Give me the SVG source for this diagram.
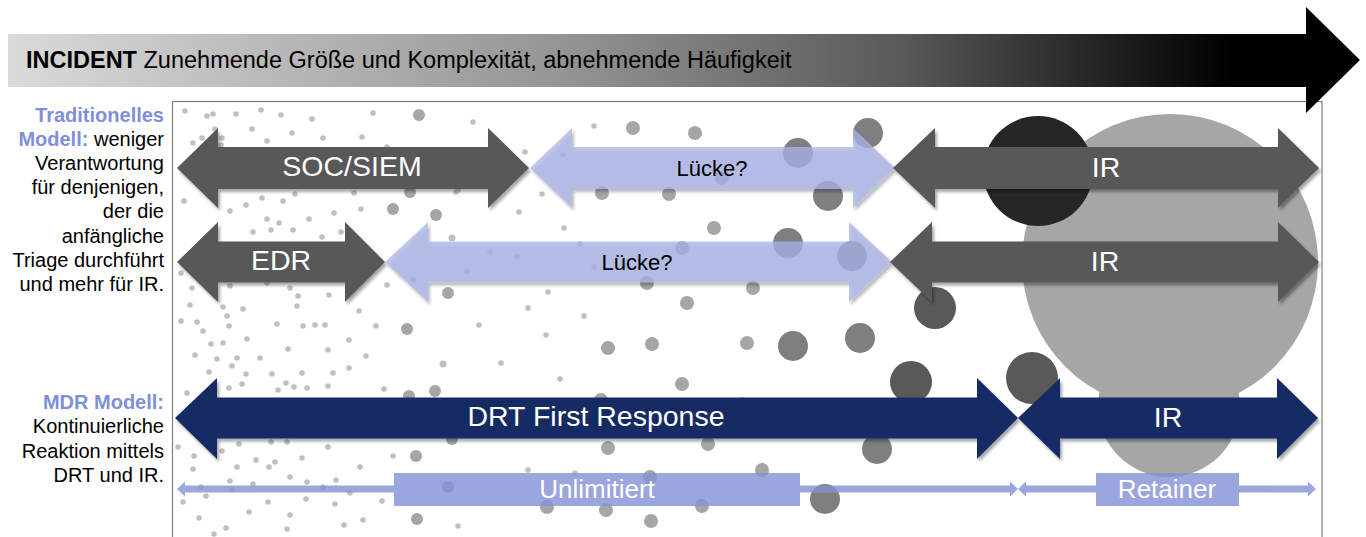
<svg xmlns="http://www.w3.org/2000/svg" width="1366" height="537" viewBox="0 0 1366 537">
<defs>
<linearGradient id="bandGrad" gradientUnits="userSpaceOnUse" x1="8" y1="0" x2="1360" y2="0">
<stop offset="0" stop-color="#dadada"/>
<stop offset="0.408" stop-color="#959595"/>
<stop offset="0.66" stop-color="#595959"/>
<stop offset="0.905" stop-color="#000000"/>
<stop offset="1" stop-color="#000000"/>
</linearGradient>
<filter id="shadow" x="-5%" y="-20%" width="110%" height="150%">
<feDropShadow dx="2" dy="3" stdDeviation="1.8" flood-color="#000" flood-opacity="0.35"/>
</filter>
<style>
text{font-family:"Liberation Sans",Arial,Helvetica,sans-serif}
.lbl{font-size:20px;fill:#000;text-anchor:end}
.blue{fill:#7f8fd9;font-weight:bold}
.s{fill:#c0c0c0}
.m{fill:#a6a6a6}
.l{fill:#7f7f7f}
.xl{fill:#595959}
.dark{fill:#595959;filter:url(#shadow)}
.gap{fill:#aab4e8;fill-opacity:0.75;filter:url(#shadow)}
.navy{fill:#162c63;filter:url(#shadow)}
.wt{fill:#fff;text-anchor:middle;font-size:28.5px}
.bt{fill:#000;text-anchor:middle;font-size:22px}
.thin{fill:#8391d6}
.ct{fill:#fff;text-anchor:middle;font-size:26px}
</style>
</defs>
<rect width="1366" height="537" fill="#fff"/>

<g id="dots">
<g class="s">
<circle cx="185" cy="111" r="2.8"/><circle cx="207" cy="116" r="2.8"/><circle cx="213" cy="114" r="2.8"/><circle cx="236" cy="114" r="2.8"/><circle cx="261" cy="110" r="2.8"/><circle cx="281" cy="115" r="2.8"/><circle cx="312" cy="119" r="2.8"/><circle cx="373" cy="113" r="2.8"/><circle cx="252" cy="129" r="2.8"/><circle cx="292" cy="133" r="2.8"/><circle cx="323" cy="138" r="2.8"/><circle cx="362" cy="137" r="2.8"/><circle cx="387" cy="147" r="2.8"/><circle cx="222" cy="138" r="2.8"/><circle cx="202" cy="138" r="2.8"/><circle cx="193" cy="143" r="2.8"/><circle cx="221" cy="145" r="2.8"/><circle cx="215" cy="129" r="2.8"/><circle cx="267" cy="141" r="2.8"/>
<circle cx="184" cy="201" r="2.8"/><circle cx="230" cy="211" r="2.8"/><circle cx="246" cy="205" r="2.8"/><circle cx="262" cy="198" r="2.8"/><circle cx="283" cy="201" r="2.8"/><circle cx="295" cy="194" r="2.8"/><circle cx="354" cy="193" r="2.8"/><circle cx="456" cy="192" r="2.8"/><circle cx="267" cy="219" r="2.8"/><circle cx="279" cy="223" r="2.8"/><circle cx="293" cy="230" r="2.8"/><circle cx="309" cy="219" r="2.8"/><circle cx="334" cy="213" r="2.8"/><circle cx="361" cy="209" r="2.8"/><circle cx="341" cy="232" r="2.8"/><circle cx="322" cy="237" r="2.8"/><circle cx="253" cy="232" r="2.8"/><circle cx="271" cy="230" r="2.8"/><circle cx="181" cy="273" r="2.8"/><circle cx="192" cy="288" r="2.8"/><circle cx="230" cy="286" r="2.8"/><circle cx="267" cy="283" r="2.8"/><circle cx="290" cy="288" r="2.8"/><circle cx="387" cy="285" r="2.8"/><circle cx="413" cy="280" r="2.8"/><circle cx="448" cy="292" r="2.8"/>
<circle cx="473" cy="122" r="2.8"/><circle cx="594" cy="126" r="2.8"/><circle cx="563" cy="155" r="2.8"/><circle cx="525" cy="152" r="2.8"/><circle cx="542" cy="194" r="2.8"/><circle cx="519" cy="212" r="2.8"/><circle cx="564" cy="228" r="2.8"/><circle cx="490" cy="252" r="2.8"/><circle cx="517" cy="257" r="2.8"/><circle cx="467" cy="271" r="2.8"/><circle cx="594" cy="267" r="2.8"/><circle cx="580" cy="244" r="2.8"/><circle cx="548" cy="292" r="2.8"/><circle cx="458" cy="190" r="2.8"/>
<circle cx="190" cy="305" r="2.8"/><circle cx="223" cy="307" r="2.8"/><circle cx="243" cy="309" r="2.8"/><circle cx="227" cy="316" r="2.8"/><circle cx="181" cy="321" r="2.8"/><circle cx="197" cy="322" r="2.8"/><circle cx="229" cy="326" r="2.8"/><circle cx="203" cy="331" r="2.8"/><circle cx="277" cy="324" r="2.8"/><circle cx="303" cy="326" r="2.8"/><circle cx="315" cy="325" r="2.8"/><circle cx="325" cy="325" r="2.8"/><circle cx="298" cy="296" r="2.8"/><circle cx="329" cy="295" r="2.8"/><circle cx="297" cy="306" r="2.8"/><circle cx="359" cy="311" r="2.8"/><circle cx="376" cy="326" r="2.8"/>
<circle cx="211" cy="344" r="2.8"/><circle cx="223" cy="343" r="2.8"/><circle cx="247" cy="339" r="2.8"/><circle cx="288" cy="349" r="2.8"/><circle cx="328" cy="350" r="2.8"/><circle cx="349" cy="340" r="2.8"/><circle cx="195" cy="355" r="2.8"/><circle cx="217" cy="359" r="2.8"/><circle cx="237" cy="358" r="2.8"/><circle cx="260" cy="358" r="2.8"/><circle cx="232" cy="366" r="2.8"/><circle cx="366" cy="356" r="2.8"/>
<circle cx="209" cy="372" r="2.8"/><circle cx="246" cy="374" r="2.8"/><circle cx="272" cy="374" r="2.8"/><circle cx="302" cy="373" r="2.8"/><circle cx="333" cy="373" r="2.8"/><circle cx="349" cy="368" r="2.8"/><circle cx="242" cy="384" r="2.8"/><circle cx="286" cy="383" r="2.8"/><circle cx="294" cy="387" r="2.8"/><circle cx="307" cy="388" r="2.8"/><circle cx="328" cy="386" r="2.8"/><circle cx="278" cy="390" r="2.8"/><circle cx="229" cy="388" r="2.8"/><circle cx="187" cy="393" r="2.8"/><circle cx="384" cy="389" r="2.8"/>
<circle cx="178" cy="447" r="2.8"/><circle cx="239" cy="444" r="2.8"/><circle cx="271" cy="442" r="2.8"/><circle cx="287" cy="442" r="2.8"/><circle cx="328" cy="447" r="2.8"/><circle cx="194" cy="456" r="2.8"/><circle cx="222" cy="451" r="2.8"/><circle cx="256" cy="460" r="2.8"/><circle cx="275" cy="462" r="2.8"/><circle cx="269" cy="467" r="2.8"/><circle cx="237" cy="467" r="2.8"/><circle cx="302" cy="458" r="2.8"/><circle cx="360" cy="467" r="2.8"/><circle cx="393" cy="456" r="2.8"/><circle cx="193" cy="469" r="2.8"/><circle cx="290" cy="477" r="2.8"/><circle cx="307" cy="482" r="2.8"/><circle cx="336" cy="480" r="2.8"/><circle cx="230" cy="481" r="2.8"/><circle cx="253" cy="484" r="2.8"/><circle cx="201" cy="487" r="2.8"/><circle cx="232" cy="490" r="2.8"/><circle cx="323" cy="487" r="2.8"/><circle cx="350" cy="493" r="2.8"/>
<circle cx="183" cy="502" r="2.8"/><circle cx="206" cy="496" r="2.8"/><circle cx="268" cy="502" r="2.8"/><circle cx="306" cy="499" r="2.8"/><circle cx="335" cy="504" r="2.8"/><circle cx="382" cy="501" r="2.8"/><circle cx="249" cy="512" r="2.8"/><circle cx="290" cy="515" r="2.8"/><circle cx="199" cy="518" r="2.8"/><circle cx="363" cy="520" r="2.8"/><circle cx="344" cy="525" r="2.8"/><circle cx="226" cy="528" r="2.8"/><circle cx="287" cy="529" r="2.8"/><circle cx="214" cy="534" r="2.8"/><circle cx="458" cy="526" r="2.8"/>
<circle cx="528" cy="308" r="2.8"/><circle cx="584" cy="316" r="2.8"/><circle cx="479" cy="325" r="2.8"/><circle cx="546" cy="335" r="2.8"/><circle cx="501" cy="363" r="2.8"/><circle cx="560" cy="379" r="2.8"/><circle cx="528" cy="470" r="2.8"/><circle cx="575" cy="473" r="2.8"/><circle cx="447" cy="487" r="2.8"/><circle cx="452" cy="438" r="2.8"/><circle cx="743" cy="400" r="2.8"/><circle cx="443" cy="364" r="3.5"/><circle cx="452" cy="238" r="3.5"/>
</g>
<g class="m">
<circle cx="419" cy="115" r="6"/><circle cx="410" cy="192" r="6"/><circle cx="393" cy="209" r="6"/><circle cx="436" cy="215" r="6"/><circle cx="407" cy="329" r="6"/><circle cx="448" cy="293" r="6"/><circle cx="435" cy="391" r="6"/><circle cx="409" cy="396" r="6"/><circle cx="452" cy="439" r="6"/><circle cx="416" cy="456" r="6"/><circle cx="448" cy="487" r="6"/><circle cx="417" cy="519" r="6"/>
<circle cx="633" cy="128" r="7"/><circle cx="695" cy="133" r="7"/><circle cx="602" cy="193" r="7"/><circle cx="669" cy="194" r="7"/><circle cx="722" cy="178" r="7"/><circle cx="714" cy="228" r="7"/><circle cx="682" cy="248" r="7"/><circle cx="647" cy="283" r="7"/><circle cx="753" cy="288" r="7"/>
<circle cx="687" cy="303" r="7"/><circle cx="608" cy="348" r="7"/><circle cx="652" cy="344" r="7"/><circle cx="747" cy="343" r="7"/><circle cx="682" cy="384" r="7"/><circle cx="601" cy="400" r="7"/><circle cx="608" cy="448" r="7"/><circle cx="708" cy="444" r="7"/><circle cx="762" cy="470" r="7"/><circle cx="650" cy="477" r="7"/><circle cx="547" cy="507" r="7"/><circle cx="606" cy="510" r="7"/><circle cx="702" cy="506" r="7"/><circle cx="651" cy="521" r="7"/>
</g>
<g class="l">
<circle cx="868" cy="133" r="15"/><circle cx="798" cy="153" r="15"/><circle cx="828" cy="196" r="15"/><circle cx="788" cy="243" r="15"/><circle cx="852" cy="256" r="15"/><circle cx="860" cy="338" r="15"/><circle cx="793" cy="346" r="15"/><circle cx="877" cy="449" r="15"/><circle cx="825" cy="499" r="15"/>
</g>
<g class="xl">
<circle cx="935" cy="308" r="21"/><circle cx="911" cy="382" r="21"/><circle cx="1032" cy="378" r="26"/>
</g>
<circle cx="1170" cy="262" r="148" fill="#a6a6a6"/>
<circle cx="1169" cy="406" r="71" fill="#a6a6a6"/>
<circle cx="1038" cy="171" r="55" fill="#262626"/>
</g>

<rect id="frame" x="172.5" y="101.5" width="1149.5" height="480" fill="none" stroke="#7f7f7f" stroke-width="1.2"/>

<g id="incident-arrow">
<path d="M8,34 L1306,34 L1306,7 L1360,60 L1306,113 L1306,87 L8,87 Z" fill="url(#bandGrad)"/>
<text x="26" y="68" font-size="23.5" fill="#000"><tspan font-weight="bold">INCIDENT</tspan> Zunehmende Größe und Komplexität, abnehmende Häufigkeit</text>
</g>

<g id="label-traditionell">
<text class="lbl" x="164" y="122"><tspan class="blue">Traditionelles</tspan></text>
<text class="lbl" x="164" y="146"><tspan class="blue">Modell:</tspan> weniger</text>
<text class="lbl" x="164" y="170">Verantwortung</text>
<text class="lbl" x="164" y="194">für denjenigen,</text>
<text class="lbl" x="164" y="218">der die</text>
<text class="lbl" x="164" y="243">anfängliche</text>
<text class="lbl" x="164" y="267">Triage durchführt</text>
<text class="lbl" x="164" y="291">und mehr für IR.</text>
</g>
<g id="label-mdr">
<text class="lbl" x="164" y="409"><tspan class="blue">MDR Modell:</tspan></text>
<text class="lbl" x="164" y="433">Kontinuierliche</text>
<text class="lbl" x="164" y="458">Reaktion mittels</text>
<text class="lbl" x="164" y="482">DRT und IR.</text>
</g>

<g id="connectors">
<g id="node-soc">
<path class="dark" d="M177,168 L218,128 L218,147 L488,147 L488,128 L529,168 L488,208 L488,189 L218,189 L218,208 Z"/>
<text class="wt" x="352" y="176">SOC/SIEM</text>
</g>
<g id="node-gap1">
<path class="gap" d="M530,168 L572,128 L572,147 L853,147 L853,128 L895,168 L853,208 L853,189 L572,189 L572,208 Z"/>
<text class="bt" x="712" y="176">Lücke?</text>
</g>
<g id="node-ir1">
<path class="dark" d="M893,168 L935,128 L935,147 L1278,147 L1278,128 L1319,168 L1278,208 L1278,189 L935,189 L935,208 Z"/>
<text class="wt" x="1106" y="177">IR</text>
</g>
<g id="node-edr">
<path class="dark" d="M177,262 L218,222 L218,241.5 L345,241.5 L345,222 L385,262 L345,302 L345,282.5 L218,282.5 L218,302 Z"/>
<text class="wt" x="281" y="270">EDR</text>
</g>
<g id="node-gap2">
<path class="gap" d="M385,262 L428,222 L428,241.5 L849,241.5 L849,222 L892,262 L849,302 L849,282.5 L428,282.5 L428,302 Z"/>
<text class="bt" x="637" y="270">Lücke?</text>
</g>
<g id="node-ir2">
<path class="dark" d="M890,262 L932,222 L932,241.5 L1278,241.5 L1278,222 L1319,262 L1278,302 L1278,282.5 L932,282.5 L932,302 Z"/>
<text class="wt" x="1105" y="271">IR</text>
</g>
<g id="node-drt">
<path class="navy" d="M175,418 L217,378 L217,397.5 L977,397.5 L977,378 L1018,418 L977,459 L977,438.5 L217,438.5 L217,459 Z"/>
<text class="wt" x="596" y="426">DRT First Response</text>
</g>
<g id="node-ir3">
<path class="navy" d="M1018,418 L1060,378 L1060,397.5 L1277,397.5 L1277,378 L1318,418 L1277,459 L1277,438.5 L1060,438.5 L1060,459 Z"/>
<text class="wt" x="1168" y="427">IR</text>
</g>
<g id="node-unlimitiert">
<g opacity="0.8" class="thin">
<path d="M177,489 L185,481.5 L185,485.5 L1010,485.5 L1010,481.5 L1018,489 L1010,496.5 L1010,492.5 L185,492.5 L185,496.5 Z"/>
<rect x="394" y="473" width="406" height="33"/>
</g>
<text class="ct" x="597" y="498">Unlimitiert</text>
</g>
<g id="node-retainer">
<g opacity="0.8" class="thin">
<path d="M1018,489 L1026,481.5 L1026,485.5 L1308,485.5 L1308,481.5 L1316,489 L1308,496.5 L1308,492.5 L1026,492.5 L1026,496.5 Z"/>
<rect x="1096" y="473" width="143" height="33"/>
</g>
<text class="ct" x="1167" y="498">Retainer</text>
</g>
</g>
</svg>
